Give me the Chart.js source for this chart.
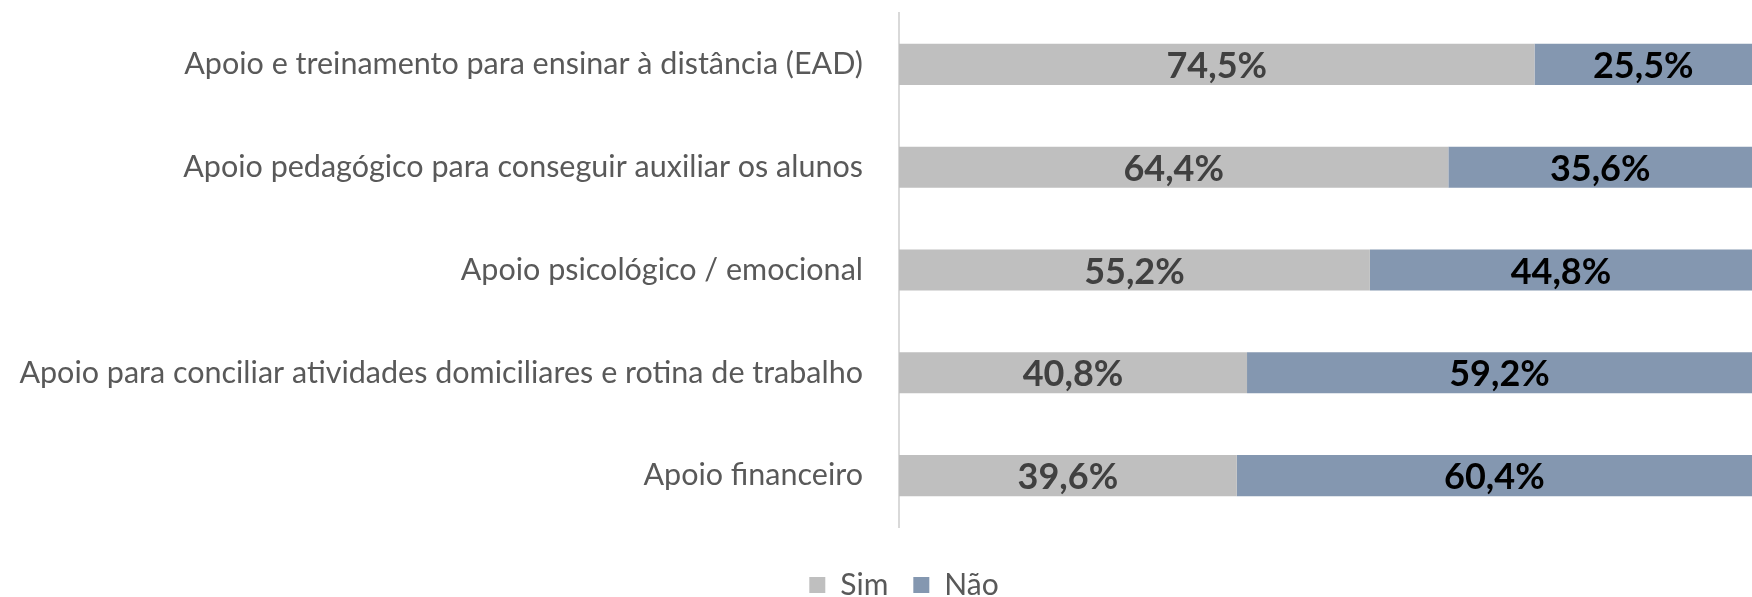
<!DOCTYPE html>
<html>
<head>
<meta charset="utf-8">
<script src="https://cdn.jsdelivr.net/npm/chart.js@4.4.0/dist/chart.umd.min.js"></script>
<style>
  html, body { margin: 0; padding: 0; background: #fff; overflow: hidden; }
  #wrap { width: 1752px; height: 610px; }
</style>
</head>
<body>
<div id="wrap"><canvas id="grafico"></canvas></div>
<script>
// dados
const categorias = [
    'Apoio e treinamento para ensinar à distância (EAD)',
    'Apoio pedagógico para conseguir auxiliar os alunos',
    'Apoio psicológico / emocional',
    'Apoio para conciliar atividades domiciliares e rotina de trabalho',
    'Apoio financeiro'
];
const valoresSim = [74.5, 64.4, 55.2, 40.8, 39.6];
const valoresNao = [25.5, 35.6, 44.8, 59.2, 60.4];
const series = ['Sim', 'Não'];

const FONTE = "'Source Sans Pro', 'Lato', 'Open Sans', sans-serif";

// rótulos no centro de cada barra
const rotulosBarras = {
    id: 'rotulosBarras',
    afterDatasetsDraw(chart) {
        const ctx = chart.ctx;
        ctx.save();
        ctx.font = `bold 36px ${FONTE}`;
        ctx.textAlign = 'center';
        ctx.textBaseline = 'middle';
        chart.data.datasets.forEach((ds, i) => {
            const meta = chart.getDatasetMeta(i);
            ctx.fillStyle = i === 0 ? '#404040' : '#000000';
            meta.data.forEach((bar, j) => {
                const x = (bar.x + bar.base) / 2;
                const txt = ds.data[j].toFixed(1).replace('.', ',') + '%';
                ctx.fillText(txt, x, bar.y + 2);
            });
        });
        ctx.restore();
    }
};

// a legenda fica um pouco à direita do centro e mais abaixo
const deslocaLegenda = {
    id: 'deslocaLegenda',
    afterLayout(chart) {
        chart.legend.left += 28;
        chart.legend.right += 28;
        chart.legend.top += 18;
        chart.legend.bottom += 18;
    }
};

new Chart(document.getElementById('grafico').getContext('2d'), {
    type: 'bar',
    data: {
        labels: categorias,
        datasets: [
            { label: series[0], data: valoresSim, backgroundColor: '#BFBFBF' },
            { label: series[1], data: valoresNao, backgroundColor: '#8497B0' }
        ]
    },
    options: {
        indexAxis: 'y',
        responsive: true,
        maintainAspectRatio: false,
        animation: false,
        layout: { padding: { top: 13, right: 0, left: 0, bottom: 0 } },
        datasets: { bar: { categoryPercentage: 1, barPercentage: 0.4 } },
        scales: {
            x: { stacked: true, min: 0, max: 100, display: false },
            y: {
                stacked: true,
                grid: { display: false },
                border: { display: true, color: '#D9D9D9', width: 2 },
                ticks: { color: '#595959', font: { family: FONTE, size: 30.5 }, padding: 28 },
                afterFit(scale) {
                    scale.width = 899;
                    scale.paddingTop = 0;
                    scale.paddingBottom = 83;
                }
            }
        },
        plugins: {
            legend: {
                position: 'bottom',
                labels: {
                    color: '#595959',
                    font: { family: FONTE, size: 30 },
                    boxWidth: 16, boxHeight: 16,
                    padding: 25
                }
            },
            tooltip: { enabled: false }
        }
    },
    plugins: [rotulosBarras, deslocaLegenda]
});
</script>
</body>
</html>
